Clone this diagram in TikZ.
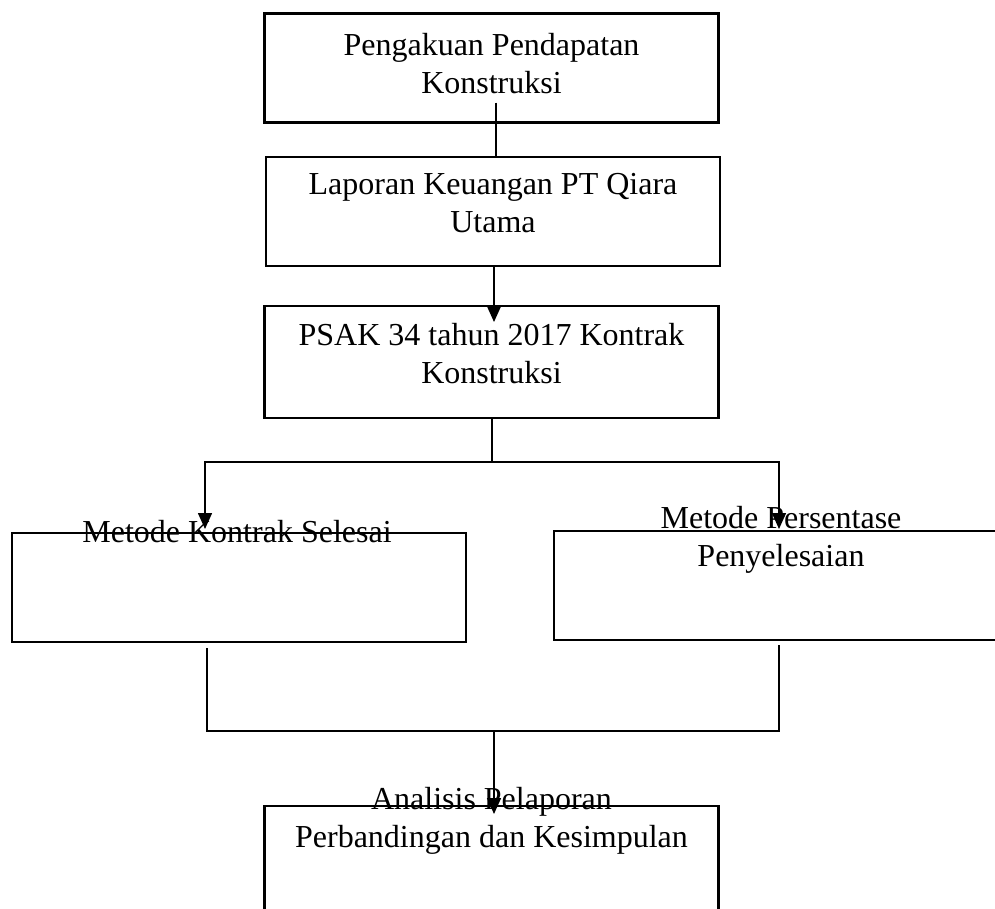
\documentclass[tikz,border=0pt]{standalone}
\usepackage{fontspec}
\setmainfont{Liberation Serif}
\usepackage{tikz}
\usetikzlibrary{arrows.meta}

\begin{document}
\begin{tikzpicture}[x=1pt,y=-1pt,>={Triangle[length=16pt,width=14pt]},
  box/.style={draw,line width=2.2pt,minimum width=454pt,minimum height=109pt,inner sep=0pt,outer sep=0pt},
  txt/.style={anchor=base,inner sep=0pt,align=center,font=\fontsize{32}{38}\selectfont},
  link/.style={line width=1.5pt},
  arrow/.style={->,line width=1.5pt}]
\useasboundingbox (0,0) rectangle (995,908);
\clip (0,0) rectangle (995,908);
\node[box] (pengakuan) at (491.5,68) {};
\node[box] (laporan) at (493,211.5) {};
\node[box,minimum height=112pt] (psak) at (491.5,362) {};
\node[box] (kontrak) at (239,587.5) {};
\node[box] (persen) at (781,585.5) {};
\node[box,minimum height=150pt] (analisis) at (491.5,881) {};
% base anchor = baseline of the last line
\node[txt] (t-pengakuan) at ([yshift=-80pt]pengakuan.north) {Pengakuan Pendapatan\\Konstruksi};
\node[txt] (t-laporan) at ([yshift=-75pt]laporan.north) {Laporan Keuangan PT Qiara\\Utama};
\node[txt] (t-psak) at ([yshift=-77pt]psak.north) {PSAK 34 tahun 2017 Kontrak\\Konstruksi};
\node[txt] (t-kontrak) at ([xshift=-2pt,yshift=-9pt]kontrak.north) {Metode Kontrak Selesai};
\node[txt] (t-persen) at ([yshift=-35pt]persen.north) {Metode Persentase\\Penyelesaian};
\node[txt] (t-analisis) at ([yshift=-41pt]analisis.north) {Analisis Pelaporan\\Perbandingan dan Kesimpulan};
\coordinate (split) at (492,462);
\coordinate (merge) at (494,731);
\draw[link] ([xshift=4.5pt,yshift=20pt]pengakuan.south) -- ([xshift=3pt]laporan.north);
\draw[arrow] ([xshift=1pt]laporan.south) -- ([xshift=2.5pt,yshift=-16pt]psak.north);
\draw[link] ([xshift=0.5pt]psak.south) -- (split);
\draw[arrow] (split) -| ([xshift=-34pt,yshift=4pt]kontrak.north);
\draw[arrow] (split) -| ([xshift=-2pt,yshift=2pt]persen.north);
\draw[link] ([xshift=-32pt,yshift=-6pt]kontrak.south) |- (merge);
\draw[link] ([xshift=-2pt,yshift=-5pt]persen.south) |- (merge);
\draw[arrow] (merge) -- ([xshift=2.5pt,yshift=-8pt]analisis.north);
\end{tikzpicture}
\end{document}
